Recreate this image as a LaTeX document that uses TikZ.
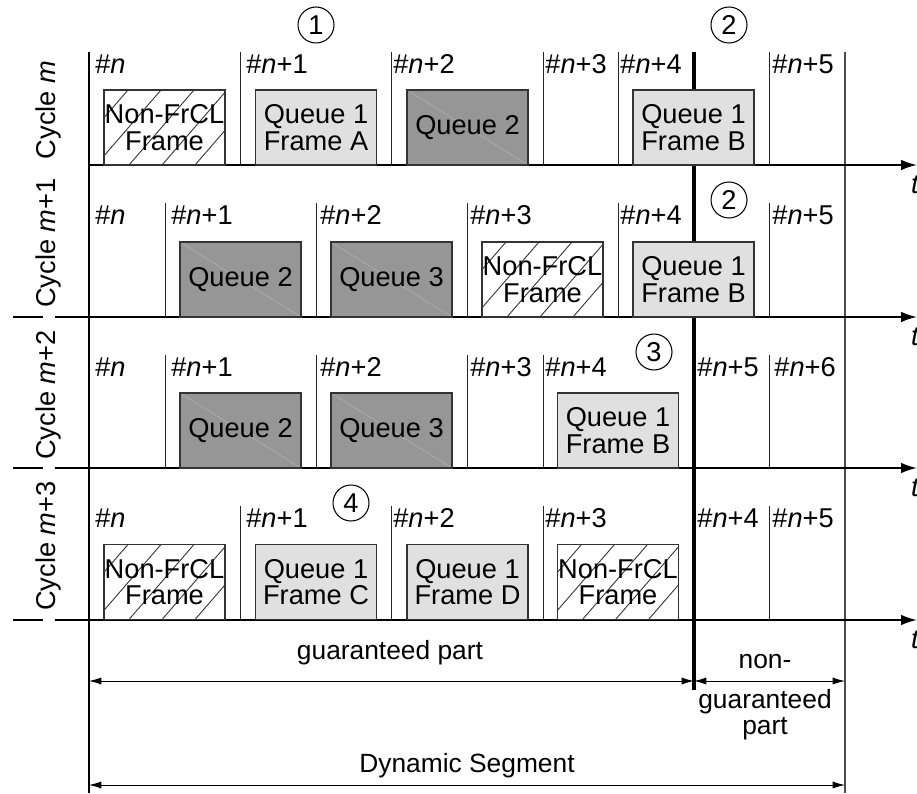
\documentclass[tikz,border=0pt]{standalone}
\usepackage{fontspec}
\setmainfont{Liberation Sans}
\usetikzlibrary{arrows.meta}
\newcommand{\diagfont}{\fontsize{15.5}{15}\selectfont}
\newcommand{\partfont}{\fontsize{15}{15}\selectfont}
\definecolor{lightq}{gray}{0.88}
\definecolor{darkq}{gray}{0.59}
\tikzset{
  axisline/.style={line width=1.2pt,-{Latex[length=9pt,width=6pt]}},
  slotline/.style={line width=0.5pt,black!85},
  guarline/.style={line width=2.2pt},
  dimarrow/.style={line width=0.5pt,{Latex[length=7pt,width=4pt]}-{Latex[length=7pt,width=4pt]}},
  qbox/.style={draw=black!80,line width=0.8pt,minimum width=2.42cm,minimum height=1.5cm,
    align=center,inner sep=0pt},
  qlight/.style={qbox,fill=lightq},
  qdark/.style={qbox,fill=darkq,path picture={\draw[black!30,line width=0.3pt]
    (path picture bounding box.north west) -- (path picture bounding box.south east);}},
  nonfrcl/.style={qbox,fill=white,path picture={
    \foreach \hx in {-74,-41,...,125}
      \draw[line width=0.5pt] ([shift={(\hx,0)}]path picture bounding box.south west) -- ++(65,-75);}},
  slotlabel/.style={anchor=west,inner sep=0pt},
  numcirc/.style={circle,draw,line width=0.6pt,minimum size=0.72cm,inner sep=0pt}
}
\begin{document}
\begin{tikzpicture}[x=0.02cm,y=-0.02cm,font=\diagfont]
  \useasboundingbox (0,0) rectangle (917,794);
  % frame lines
  \coordinate (top) at (89,52);
  \coordinate (bot) at (89,793);
  \draw[line width=1.2pt] (top) -- (bot);
  \draw[line width=0.8pt,black!70] (845,52) -- (845,793);
  \draw[guarline] (694,52) -- (694,690);
  % time axes
  \draw[axisline] (89,165) -- (917,165);
  \foreach \ay in {317,468,620} {
    \draw[line width=1.2pt] (13,\ay) -- (43,\ay);
    \draw[axisline] (55,\ay) -- (917,\ay);
  }
  \foreach \ay in {165,317,468,620} \node[anchor=west] at (905,\ay+20) {\textit{t}};
  % slot borders
  \foreach \sx in {240,391,543,618,769} \draw[slotline] (\sx,52) -- (\sx,165);
  \foreach \sx in {165,316,467,618,769} \draw[slotline] (\sx,203) -- (\sx,317);
  \foreach \sx in {165,316,467,543,769} \draw[slotline] (\sx,355) -- (\sx,468);
  \foreach \sx in {240,391,543,769} \draw[slotline] (\sx,506) -- (\sx,620);
  % cycle labels
  \node[rotate=90] (cyc0) at (48,110) {Cycle \textit{m}};
  \node[rotate=90] (cyc1) at (48,243) {Cycle \textit{m}+1};
  \node[rotate=90] (cyc2) at (48,395) {Cycle \textit{m}+2};
  \node[rotate=90] (cyc3) at (48,546) {Cycle \textit{m}+3};
  % slot numbers
  \foreach \lx/\ln in {95/,246/+1,393/+2,545/+3,620/+4,772/+5}
    \node[slotlabel] at (\lx,64) {\#\textit{n}\ln};
  \foreach \lx/\ln in {95/,171/+1,320/+2,470/+3,620/+4,772/+5}
    \node[slotlabel] at (\lx,215) {\#\textit{n}\ln};
  \foreach \lx/\ln in {95/,171/+1,320/+2,470/+3,545/+4,697/+5,774/+6}
    \node[slotlabel] at (\lx,367) {\#\textit{n}\ln};
  \foreach \lx/\ln in {95/,246/+1,393/+2,545/+3,697/+4,772/+5}
    \node[slotlabel] at (\lx,518) {\#\textit{n}\ln};
  % frames, cycle m
  \node[nonfrcl] (f0a) at (164.5,127.5) {Non-FrCL\\Frame};
  \node[qlight] (f0b) at (316,127.5) {Queue 1\\Frame A};
  \node[qdark] (f0c) at (467.5,127.5) {Queue 2};
  \node[qlight] (f0d) at (693.5,127.5) {Queue 1\\Frame B};
  % frames, cycle m+1
  \node[qdark] (f1a) at (240.5,279.5) {Queue 2};
  \node[qdark] (f1b) at (391.5,279.5) {Queue 3};
  \node[nonfrcl] (f1c) at (542.5,279.5) {Non-FrCL\\Frame};
  \node[qlight] (f1d) at (693.5,279.5) {Queue 1\\Frame B};
  % frames, cycle m+2
  \node[qdark] (f2a) at (240.5,430.5) {Queue 2};
  \node[qdark] (f2b) at (391.5,430.5) {Queue 3};
  \node[qlight] (f2c) at (618,430.5) {Queue 1\\Frame B};
  % frames, cycle m+3
  \node[nonfrcl] (f3a) at (164.5,582) {Non-FrCL\\Frame};
  \node[qlight] (f3b) at (316,582) {Queue 1\\Frame C};
  \node[qlight] (f3c) at (467.5,582) {Queue 1\\Frame D};
  \node[nonfrcl] (f3d) at (618,582) {Non-FrCL\\Frame};
  % markers
  \node[numcirc] (m1) at (316,25) {1};
  \node[numcirc] (m2) at (729,25) {2};
  \node[numcirc] (m2b) at (729,200) {2};
  \node[numcirc] (m3) at (654,352) {3};
  \node[numcirc] (m4) at (351,503) {4};
  % segment parts
  \coordinate (gs) at (89,681);
  \coordinate (gm) at (694,681);
  \coordinate (ge) at (845,681);
  \coordinate (ds) at (89,785);
  \coordinate (de) at (845,785);
  \draw[dimarrow] (gs) -- (gm);
  \draw[dimarrow] (gm) -- (ge);
  \draw[dimarrow] (ds) -- (de);
  \node[font=\partfont] (gp) at (390,653) {guaranteed part};
  \node[font=\partfont] (ngp1) at (765,662) {non-};
  \node[font=\partfont,align=center] (ngp2) at (765,715) {guaranteed\\part};
  \node[font=\partfont] (dyn) at (467,766) {Dynamic Segment};
\end{tikzpicture}
\end{document}
